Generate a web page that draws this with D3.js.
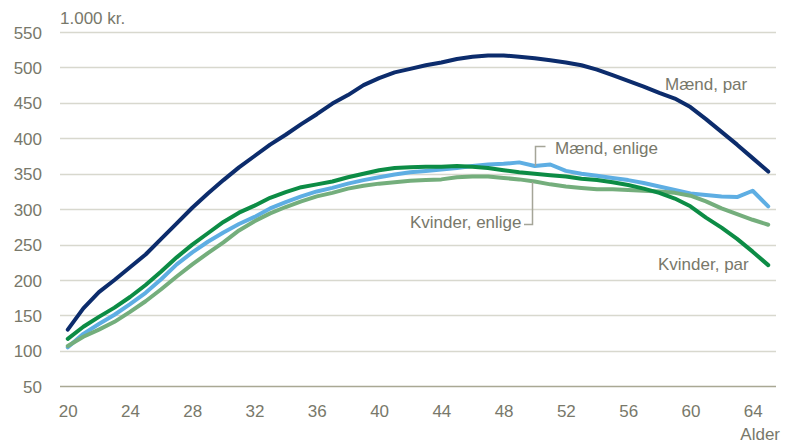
<!DOCTYPE html>
<html>
<head>
<meta charset="utf-8">
<script src="https://cdn.jsdelivr.net/npm/d3@7"></script>
<style>
  html, body { margin: 0; padding: 0; background: #ffffff; }
  svg { display: block; }
  text { font-family: "Liberation Sans", Arial, sans-serif; }
</style>
</head>
<body>
<svg id="chart" width="801" height="443"></svg>
<script>
// ---- Data ----
const ages = d3.range(20, 66);
const xTickLabels = [20, 24, 28, 32, 36, 40, 44, 48, 52, 56, 60, 64];
const yTicks = [50, 100, 150, 200, 250, 300, 350, 400, 450, 500, 550];

const maendPar = [130, 160, 183, 200, 218, 236, 258, 280, 302, 322, 341, 359, 375, 391, 405, 420, 434, 449, 461, 475, 485, 493, 498, 503, 507, 512, 515, 517, 517, 515, 513, 510, 507, 503, 497, 489, 481, 473, 464, 456, 444, 427, 409, 391, 372, 353];
const maendEnlige = [105, 124, 138, 151, 166, 182, 201, 222, 239, 254, 267, 279, 289, 301, 310, 318, 325, 330, 336, 341, 345, 349, 352, 354, 356, 358, 361, 363, 364, 366, 361, 363, 354, 350, 347, 344, 341, 337, 332, 327, 322, 320, 318, 317, 326, 304];
const kvinderPar = [117, 134, 148, 161, 176, 193, 212, 232, 250, 266, 282, 295, 305, 316, 324, 331, 335, 339, 345, 350, 355, 358, 359, 360, 360, 361, 360, 358, 355, 352, 350, 348, 346, 343, 341, 338, 334, 329, 323, 315, 304, 288, 274, 258, 240, 221];
const kvinderEnlige = [107, 120, 130, 141, 155, 170, 187, 205, 222, 238, 253, 270, 283, 294, 303, 311, 318, 323, 329, 333, 336, 338, 340, 341, 342, 345, 346, 346, 344, 342, 339, 335, 332, 330, 328, 328, 327, 326, 325, 323, 319, 311, 301, 293, 285, 278];

const seriesNames = ["Mænd, enlige", "Kvinder, enlige", "Kvinder, par", "Mænd, par"];
const seriesValues = [maendEnlige, kvinderEnlige, kvinderPar, maendPar];
const seriesColors = ["#5eaee3", "#74ae7c", "#0c8c45", "#0c2c6c"];

const unitLabel = "1.000 kr.";
const xAxisTitle = "Alder";

// ---- Layout ----
const svg = d3.select("#chart");
const textColor = "#78786a";
const plotLeft = 60, plotRight = 776, plotTop = 32, plotBottom = 386.3;

const x = d3.scalePoint().domain(ages).range([plotLeft, plotRight]).padding(0.5);
const y = d3.scaleLinear().domain([50, 550]).range([plotBottom, plotTop]);

// gridlines
svg.append("g").selectAll("line")
  .data(yTicks)
  .join("line")
  .attr("x1", plotLeft).attr("x2", plotRight)
  .attr("y1", d => Math.round(y(d)) + 0.5).attr("y2", d => Math.round(y(d)) + 0.5)
  .attr("stroke", d => d === 50 ? "#a9a894" : "#d8d8ce")
  .attr("stroke-width", 1.3);

// y axis labels
const yAxis = d3.axisLeft(y).tickValues(yTicks).tickSize(0).tickPadding(0);
const gy = svg.append("g").attr("transform", "translate(42,0)").call(yAxis);
gy.select(".domain").remove();
gy.selectAll("text")
  .attr("fill", textColor)
  .style("font-size", "17px")
  .attr("dy", "0.36em");

// x axis labels
const xAxis = d3.axisBottom(x).tickValues(xTickLabels).tickSize(0).tickPadding(0);
const gx = svg.append("g").attr("transform", "translate(0,405)").call(xAxis);
gx.select(".domain").remove();
gx.selectAll("text")
  .attr("fill", textColor)
  .style("font-size", "17px")
  .attr("dy", "0.71em");

// titles
svg.append("text").attr("x", 60).attr("y", 24)
  .attr("fill", textColor).style("font-size", "17px").text(unitLabel);
svg.append("text").attr("x", 780).attr("y", 440).attr("text-anchor", "end")
  .attr("fill", textColor).style("font-size", "17px").text(xAxisTitle);

// lines
const line = d3.line()
  .x((d, i) => x(ages[i]))
  .y(d => y(d));

svg.append("g").selectAll("path")
  .data(seriesValues)
  .join("path")
  .attr("d", d => line(d))
  .attr("fill", "none")
  .attr("stroke", (d, i) => seriesColors[i])
  .attr("stroke-width", 4)
  .attr("stroke-linejoin", "round")
  .attr("stroke-linecap", "round");

// leader lines
const leaderColor = "#a5a598";
svg.append("path")
  .attr("d", "M545.5,146.5 H535.5 V166")
  .attr("fill", "none").attr("stroke", leaderColor).attr("stroke-width", 1.5);
svg.append("path")
  .attr("d", "M524,224.5 H532.5 V182")
  .attr("fill", "none").attr("stroke", leaderColor).attr("stroke-width", 1.5);

// series labels
const labels = [
  { text: seriesNames[3], x: 665, y: 90 },
  { text: seriesNames[0], x: 555, y: 154 },
  { text: seriesNames[1], x: 410, y: 228 },
  { text: seriesNames[2], x: 658, y: 270 }
];
svg.append("g").selectAll("text")
  .data(labels)
  .join("text")
  .attr("x", d => d.x).attr("y", d => d.y)
  .attr("fill", textColor)
  .style("font-size", "17px")
  .text(d => d.text);
</script>
</body>
</html>
